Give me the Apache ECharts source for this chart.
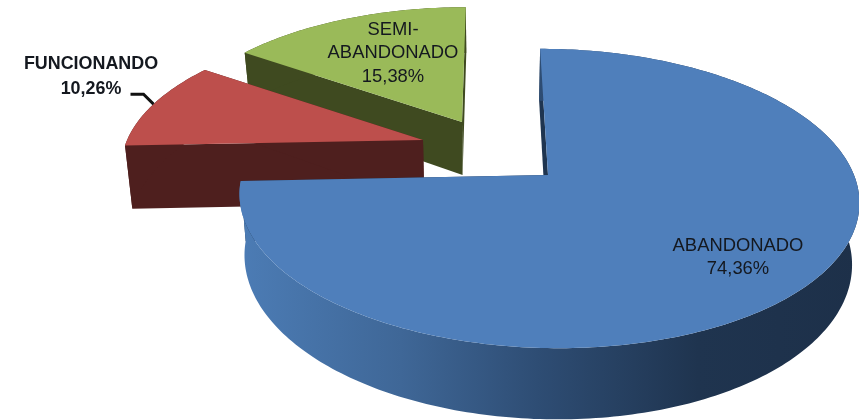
<!DOCTYPE html>
<html><head><meta charset="utf-8">
<style>html,body{margin:0;padding:0;background:#fff}#c{width:859px;height:420px}</style>
<script src="https://cdn.jsdelivr.net/npm/echarts@6/dist/echarts.min.js"></script>
</head><body><div id="c"></div>
<script>
const categories = ['ABANDONADO', 'FUNCIONANDO', 'SEMI-\nABANDONADO'];
const shares = [74.36, 10.26, 15.38];

const topColors = ['#4f7fbb', '#bd4f4c', '#9aba59'];
const wallColors = ['#1f3550', '#4e1f1e', '#3f4a20'];
const drawOrder = [2, 1, 0];
// Perspective camera and per-slice explosion layout
const VX = 490, K = 0.157, RX = 306, RY = 146, LEVEL_X = 0.98;
const sliceLayout = [
  { ax: 548, ay: 175, sx: 1, sy: 1, h: 60, lx: 738, ly: 257, font: '18.4px "Liberation Sans"', lh: 23 },
  { ax: 423, ay: 140, sx: 0.967, sy: 0.92, h: 63, lx: 91, ly: 77, font: 'bold 17.9px "Liberation Sans"', lh: 25 },
  { ax: 462, ay: 122, sx: 0.95, sy: 0.91, h: 53, lx: 393, ly: 53, font: '18.4px "Liberation Sans"', lh: 23.5 }
];

const total = shares.reduce((a, b) => a + b, 0);
function sliceAngles(i) {
  let a = 0;
  for (let j = 0; j < i; j++) a += shares[j];
  return [a / total * 2 * Math.PI, (a + shares[i]) / total * 2 * Math.PI];
}
function pt(g, t, r, lvl) {
  const c = Math.cos(t), s = Math.sin(t), sc = 1 / (1 + K * c * r);
  let x = VX + (g.ax - VX) * sc + RX * g.sx * s * r * sc;
  const y = g.ay + (-RY * g.sy * c * r + (lvl ? g.h : 0)) * sc;
  if (lvl) x = VX + (x - VX) * LEVEL_X;
  return [x, y];
}
function rim(g, a0, a1, lvl) {
  const n = Math.ceil((a1 - a0) / (Math.PI / 180)), out = [];
  for (let k = 0; k <= n; k++) out.push(pt(g, a0 + (a1 - a0) * k / n, 1, lvl));
  return out;
}
const poly = (points, fill, z) => ({ type: 'polygon', z2: z, shape: { points }, style: { fill, stroke: null } });

function renderItem(params, api) {
  const i = drawOrder[params.dataIndex];
  const g = sliceLayout[i];
  const [a0, a1] = sliceAngles(i);
  const wall = wallColors[i];
  const rimFill = i === 0 ? new echarts.graphic.LinearGradient(0, 0, 1, 0, [
    { offset: 0, color: '#4c7cb5' }, { offset: 0.26, color: '#3f6797' },
    { offset: 0.48, color: '#2e4d74' }, { offset: 0.74, color: '#1f344f' },
    { offset: 1, color: '#1d3049' }]) : wall;
  const top = rim(g, a0, a1, 0), bot = rim(g, a0, a1, 1);
  const children = [];
  [a0, a1].forEach(a => children.push(poly([pt(g, a, 0, 0), pt(g, a, 1, 0), pt(g, a, 1, 1), pt(g, a, 0, 1)], wall)));
  children.push(poly(top.concat(bot.slice().reverse()), rimFill));
  children.push(poly([pt(g, 0, 0, 0)].concat(top), topColors[i]));
  if (i === 1) {
    const end = pt(g, a0 + (a1 - a0) * 0.5, 1, 0);
    children.push({ type: 'polyline', shape: { points: [[end[0] - 23, end[1] - 10], [end[0] - 10, end[1] - 10], end] },
      style: { stroke: '#111', lineWidth: 3, fill: null } });
  }
  const txt = categories[i] + '\n' + api.value(0).toFixed(2).replace('.', ',') + '%';
  children.push({ type: 'text', style: { text: txt, x: g.lx, y: g.ly, font: g.font, lineHeight: g.lh,
    fill: '#14181f', align: 'center', verticalAlign: 'middle' } });
  return { type: 'group', children };
}

const chart = echarts.init(document.getElementById('c'), null, { renderer: 'canvas' });
chart.setOption({
  animation: false,
  backgroundColor: '#fff',
  series: [{
    type: 'custom',
    coordinateSystem: 'none',
    silent: true,
    renderItem,
    data: drawOrder.map(i => ({ name: categories[i], value: [shares[i]] }))
  }]
});
</script></body></html>
